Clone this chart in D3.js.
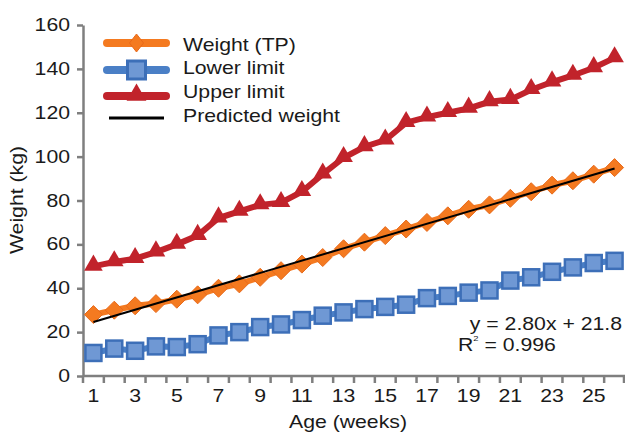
<!DOCTYPE html>
<html><head><meta charset="utf-8">
<script src="https://cdn.jsdelivr.net/npm/d3@7"></script>
<style>body{margin:0;background:#fff}svg{display:block}text{font-family:"Liberation Sans",Arial,sans-serif;fill:#1a1a1a}</style>
</head><body><svg id="c" width="625" height="435"></svg>
<script>
const weeks = d3.range(1, 27);
const tickLabels = [1,3,5,7,9,11,13,15,17,19,21,23,25];
const yTicks = [0,20,40,60,80,100,120,140,160];
const weightTP = [28,30,32,33,35,37,40,42,45,48,51,54,58,61,64,67,70,73,76,78,81,84,87,89,92,95];
const lowerLimit = [10.5,12.5,11.5,13.5,13.2,14.5,18.5,20,22.3,23.5,25.5,27.5,29,30.5,31.5,32.5,35.5,36.5,38,39,43.5,45,47.5,49.5,51.5,52.5];
const upperLimit = [50,52,53.5,56.5,60,64,72,75,78,79,84,92,99.5,104.5,107.5,115.5,118,120,122,125,126,130.5,134,137,140.5,145];
const trendSlope = 2.80, trendIntercept = 21.8;
const seriesNames = ["Weight (TP)","Lower limit","Upper limit","Predicted weight"];

const svg = d3.select("#c");
const x = d3.scaleBand().domain(weeks).range([83, 625]);
const y = d3.scaleLinear().domain([0,160]).range([376, 25]);
const xc = d => x(d) + x.bandwidth()/2;
const SX = 1.18;

function label(parent, px, py, txt, anchor, rot) {
  const g = parent.append("g").attr("transform", `translate(${px},${py}) rotate(${rot||0}) scale(${SX},1)`);
  return g.append("text").attr("text-anchor", anchor || "start").attr("font-size", 18).text(txt);
}

// axes
const axisCol = "#7f7f7f";
const ya = svg.append("g").attr("transform","translate(83,0)")
  .call(d3.axisLeft(y).tickValues(yTicks).tickSize(6).tickSizeOuter(0).tickFormat(""));
ya.select(".domain").attr("stroke",axisCol).attr("stroke-width",2.5);
ya.selectAll(".tick line").attr("stroke",axisCol).attr("stroke-width",2.5);
yTicks.forEach(v => label(svg, 70, y(v) + 6, v, "end"));

const xa = svg.append("g").attr("transform","translate(0,376)");
xa.append("line").attr("x1",83).attr("x2",625).attr("stroke",axisCol).attr("stroke-width",2.5);
xa.selectAll("line.t").data(weeks.concat([27])).join("line").attr("class","t")
  .attr("x1",d=> d<=26 ? x(d) : 624).attr("x2",d=> d<=26 ? x(d) : 624)
  .attr("y1",0).attr("y2",7).attr("stroke",axisCol).attr("stroke-width",2.5);
tickLabels.forEach(d => label(svg, xc(d), 402, d, "middle"));

label(svg, 348, 428, "Age (weeks)", "middle");
label(svg, 23, 200, "Weight (kg)", "middle", -90);

const line = d3.line().x((d,i)=>xc(weeks[i])).y(d=>y(d));
const cols = {o:"#f47a20", oDark:"#e8691a", b:"#4a7fc6", bFill:"#6f98d4", bDark:"#3d6fb8", r:"#c1232b"};

// upper limit
svg.append("path").datum(upperLimit).attr("d",line).attr("fill","none").attr("stroke",cols.r).attr("stroke-width",6);
const tri = d3.symbol().type(d3.symbolTriangle).size(150);
svg.selectAll("path.tri").data(upperLimit).join("path").attr("class","tri")
  .attr("d",tri).attr("transform",(d,i)=>`translate(${xc(weeks[i])},${y(d)-1})`).attr("fill",cols.r);

// weight TP
svg.append("path").datum(weightTP).attr("d",line).attr("fill","none").attr("stroke",cols.o).attr("stroke-width",6);
svg.selectAll("path.dia").data(weightTP).join("path").attr("class","dia")
  .attr("d","M0,-9L9,0L0,9L-9,0Z").attr("transform",(d,i)=>`translate(${xc(weeks[i])},${y(d)})`)
  .attr("fill",cols.o).attr("stroke",cols.oDark).attr("stroke-width",1);

// lower limit
svg.append("path").datum(lowerLimit).attr("d",line).attr("fill","none").attr("stroke",cols.b).attr("stroke-width",6);
svg.selectAll("rect.sq").data(lowerLimit).join("rect").attr("class","sq")
  .attr("x",(d,i)=>xc(weeks[i])-8).attr("y",d=>y(d)-8).attr("width",16).attr("height",16)
  .attr("fill",cols.bFill).attr("stroke",cols.bDark).attr("stroke-width",2.5);

// trend line
svg.append("line").attr("x1",xc(1)).attr("x2",xc(26))
  .attr("y1",y(trendSlope*1+trendIntercept)).attr("y2",y(trendSlope*26+trendIntercept))
  .attr("stroke","#000").attr("stroke-width",2);

// equation
label(svg, 622, 330, "y = 2.80x + 21.8", "end");
const r2 = label(svg, 458, 351, "", "start");
r2.append("tspan").text("R");
r2.append("tspan").attr("font-size",8).attr("dy",-10).text("2");
r2.append("tspan").attr("dy",10).text(" = 0.996");

// legend
const lg = svg.append("g");
const rowsY = [43,70,96,118];
const lx1 = 107, lx2 = 166, lmid = 136.5;
lg.append("line").attr("x1",lx1).attr("x2",lx2).attr("y1",rowsY[0]).attr("y2",rowsY[0]).attr("stroke",cols.o).attr("stroke-width",8).attr("stroke-linecap","round");
lg.append("path").attr("d","M0,-9L7,0L0,9L-7,0Z").attr("transform",`translate(${lmid},${rowsY[0]})`).attr("fill",cols.o).attr("stroke",cols.oDark);
lg.append("line").attr("x1",lx1).attr("x2",lx2).attr("y1",rowsY[1]).attr("y2",rowsY[1]).attr("stroke",cols.b).attr("stroke-width",8).attr("stroke-linecap","round");
lg.append("rect").attr("x",lmid-9).attr("y",rowsY[1]-9).attr("width",18).attr("height",18).attr("fill",cols.bFill).attr("stroke",cols.bDark).attr("stroke-width",3);
lg.append("line").attr("x1",lx1).attr("x2",lx2).attr("y1",rowsY[2]).attr("y2",rowsY[2]).attr("stroke",cols.r).attr("stroke-width",8).attr("stroke-linecap","round");
lg.append("path").attr("d",d3.symbol().type(d3.symbolTriangle).size(170)).attr("transform",`translate(${lmid},${rowsY[2]-1})`).attr("fill",cols.r);
lg.append("line").attr("x1",lx1+2).attr("x2",lx2-2).attr("y1",rowsY[3]).attr("y2",rowsY[3]).attr("stroke","#000").attr("stroke-width",3);
seriesNames.forEach((d,i) => label(lg, 183, [51,74,98,122][i], d, "start"));
</script></body></html>
